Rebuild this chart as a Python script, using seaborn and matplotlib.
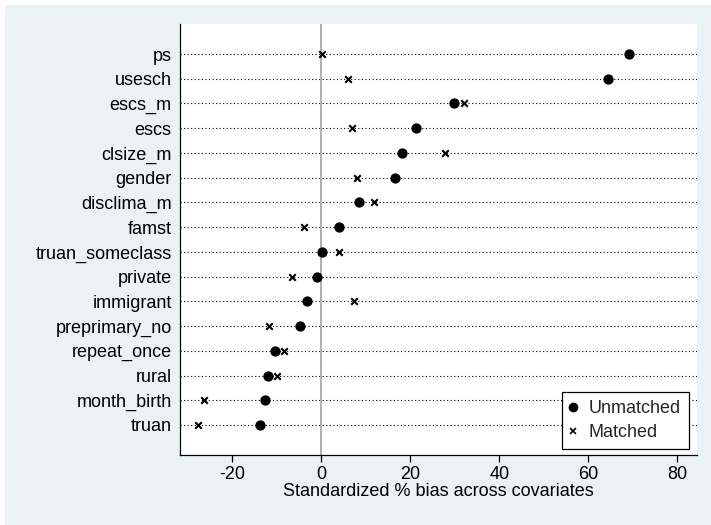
import matplotlib
matplotlib.use("Agg")
import matplotlib.pyplot as plt
import seaborn as sns
import pandas as pd
from matplotlib.patches import Rectangle
from matplotlib.lines import Line2D

covariates = ["ps", "usesch", "escs_m", "escs", "clsize_m", "gender", "disclima_m",
              "famst", "truan_someclass", "private", "immigrant", "preprimary_no",
              "repeat_once", "rural", "month_birth", "truan"]
unmatched = [69.1, 64.4, 29.8, 21.3, 18.2, 16.5, 8.5, 4.0, 0.1, -1.0, -3.2, -4.8,
             -10.3, -11.9, -12.6, -13.7]
matched = [0.1, 6.1, 32.1, 6.8, 27.8, 8.0, 11.9, -4.0, 4.0, -6.6, 7.4, -11.8,
           -8.3, -10.0, -26.3, -27.7]
xticks = [-20, 0, 20, 40, 60, 80]

df = pd.DataFrame({"covariate": covariates, "Unmatched": unmatched, "Matched": matched})

sns.set_theme(style="white")
plt.rcParams["font.family"] = ["Liberation Sans", "DejaVu Sans"]

fig = plt.figure(figsize=(7.11, 5.25), dpi=100)
fig.patch.set_facecolor("white")
fig.patches.append(Rectangle((5 / 711, 0), 1, 1 - 5 / 525, transform=fig.transFigure,
                             facecolor="#EAF2F3", edgecolor="none", zorder=-10))
ax = fig.add_axes([180 / 711, 1 - 455 / 525, (697 - 180) / 711, (455 - 24) / 525])
ax.set_facecolor("white")

ax.axvline(0, color="#A8A8A8", lw=1.3, zorder=1)

sns.scatterplot(data=df, x="Unmatched", y="covariate", marker="o", s=55,
                color="black", edgecolor="black", linewidth=0, ax=ax,
                label="Unmatched", zorder=3, legend=False)
sns.scatterplot(data=df, x="Matched", y="covariate", marker="x", s=22,
                color="black", linewidth=1.5, ax=ax, label="Matched", zorder=3,
                legend=False)

n = len(covariates)
ax.set_ylim(n - 1 + 1.214, -1.214)
ax.set_xlim(-31.75, 84.4)
ax.set_xticks(xticks)
ax.set_xticklabels([str(t) for t in xticks])

ax.grid(axis="y", color="black", linestyle=(0, (1, 2.2)), linewidth=0.8)
ax.grid(axis="x", visible=False)
ax.set_axisbelow(True)

for side in ["top", "right"]:
    ax.spines[side].set_visible(False)
for side in ["left", "bottom"]:
    ax.spines[side].set_color("black")
    ax.spines[side].set_linewidth(0.9)

ax.tick_params(axis="y", length=0, pad=6, labelsize=13, colors="black")
ax.tick_params(axis="x", length=5, width=0.9, pad=3, labelsize=13, colors="black",
               direction="out", bottom=True)
ax.set_ylabel("")
ax.set_xlabel("Standardized % bias across covariates", fontsize=13, color="black",
              labelpad=0)

handles = [Line2D([], [], marker="o", color="black", linestyle="none", markersize=6),
           Line2D([], [], marker="x", color="black", linestyle="none", markersize=4,
                  markeredgewidth=1.2)]
leg = ax.legend(handles, ["Unmatched", "Matched"], loc="lower right",
                bbox_to_anchor=(0.985, 0.013), borderaxespad=0, fontsize=13,
                frameon=True, fancybox=False, edgecolor="black", framealpha=1,
                handlelength=0.3, handletextpad=0.75, borderpad=0.45, labelspacing=0.39)
leg.get_frame().set_linewidth(0.9)

fig.savefig("out.png", dpi=100, facecolor=fig.get_facecolor())
